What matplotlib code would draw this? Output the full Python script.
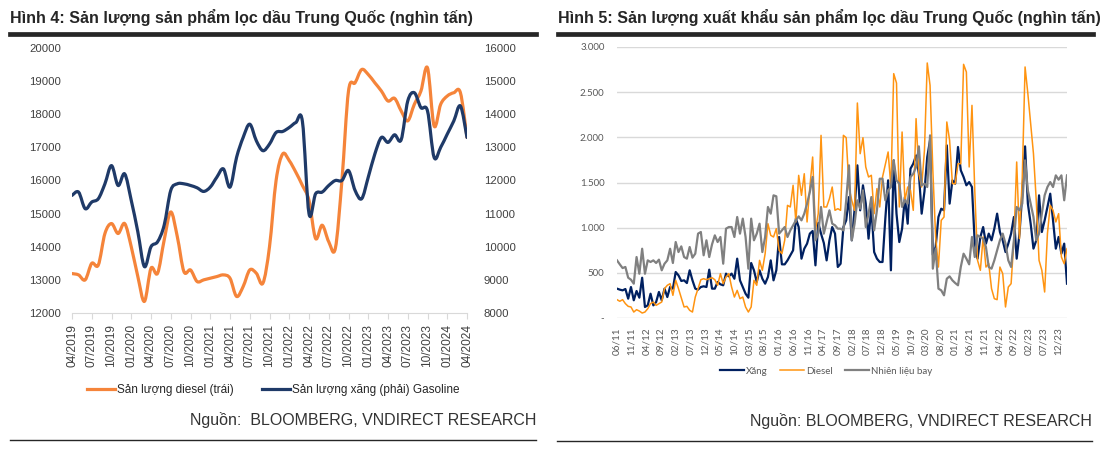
import numpy as np
import pandas as pd
import matplotlib
matplotlib.use("Agg")
import matplotlib.pyplot as plt
from matplotlib.path import Path
from matplotlib.patches import PathPatch
from matplotlib.lines import Line2D

# ---------------- Hình 4 data (nghìn tấn) ----------------
h4_months = pd.period_range("2019-04", "2024-04", freq="M")
h4_labels = [p.strftime("%m/%Y") for p in h4_months]
diesel_prod = [13190, 13150, 13000, 13500, 13450, 14400, 14700, 14400, 14700, 14000,
               13100, 12350, 13350, 13200, 14200, 15050, 14300, 13250, 13300, 12950,
               13000, 13050, 13100, 13150, 13050, 12500, 12800, 13300, 13200, 12900,
               14000, 16000, 16800, 16600, 16250, 15850, 15400, 14250, 14650, 14150,
               13950, 16000, 18700, 18950, 19350, 19200, 18950, 18700, 18400, 18480,
               18100, 17800, 18300, 18700, 19400, 17650, 18300, 18550, 18650, 18650,
               17300]
gasoline_prod = [11550, 11650, 11150, 11350, 11450, 11900, 12450, 11850, 12200, 11400,
                 10450, 9400, 10000, 10150, 10650, 11700, 11900, 11900, 11850, 11780,
                 11670, 11800, 12100, 12350, 11800, 12700, 13300, 13700, 13200, 12900,
                 13100, 13450, 13480, 13600, 13750, 13780, 11000, 11600, 11650, 11850,
                 12000, 12000, 12300, 11700, 11450, 12100, 12800, 13300, 13150, 13380,
                 13230, 14400, 14650, 14200, 14100, 12700, 13000, 13400, 13800, 14250,
                 13300]

# ---------------- Hình 5 data (nghìn tấn) ----------------
h5_months = pd.period_range("2011-06", "2024-03", freq="M")
h5_labels = [p.strftime("%m/%y") for p in h5_months]
export_gasoline = [
    325, 314, 306, 321, 214, 343, 196, 299, 225, 446, 122, 140, 269, 140, 177, 288, 196, 325, 232, 343,
    325, 509, 472, 410, 417, 387, 528, 417, 325, 314, 343, 351, 343, 535, 325, 325, 399, 373, 362, 491,
    461, 491, 435, 657, 417, 343, 269, 225, 609, 528, 399, 528, 435, 380, 454, 638, 417, 528, 897, 594,
    594, 638, 694, 749, 1100, 1007, 657, 767, 823, 934, 963, 583, 1052, 934, 830, 638, 860, 1007, 934, 565,
    601, 1007, 1081, 1339, 860, 1200, 1690, 1192, 1469, 1266, 878, 1229, 730, 657, 620, 620, 1100, 1524, 528, 1745,
    1155, 841, 989, 1339, 1044, 1653, 1708, 1800, 1597, 1155, 1400, 1782, 1967, 700, 786, 1118, 1210, 1192, 1911, 1266,
    1524, 1487, 1893, 1635, 1561, 1469, 1505, 1450, 823, 657, 897, 1007, 823, 934, 860, 989, 1155, 952, 860, 730,
    823, 934, 1118, 657, 934, 1376, 1900, 1266, 1044, 768, 860, 1358, 952, 1081, 1229, 1376, 1081, 768, 897, 712,
    823, 380]
export_diesel = [
    203, 185, 203, 159, 129, 122, 66, 92, 77, 55, 66, 103, 159, 177, 140, 159, 177, 325, 362, 380,
    251, 417, 325, 225, 122, 129, 85, 66, 232, 325, 424, 435, 424, 435, 446, 424, 362, 491, 380, 454,
    491, 343, 232, 306, 214, 232, 122, 66, 122, 417, 362, 638, 528, 712, 1044, 915, 897, 989, 749, 712,
    860, 1247, 1229, 1469, 1063, 1579, 1358, 1597, 1063, 1450, 1782, 970, 1155, 2022, 1229, 1229, 1321, 1450, 1192, 1210,
    1192, 2022, 1996, 1450, 1300, 1192, 2380, 1819, 1996, 1672, 1561, 1580, 1155, 1432, 1229, 1561, 1700, 1838, 1450, 2705,
    2601, 1229, 2059, 1303, 1450, 1413, 1192, 2207, 1597, 1450, 1856, 2823, 2576, 1635, 897, 564, 1081, 1118, 2170, 1967,
    1487, 1487, 1708, 1708, 2808, 2723, 1672, 2354, 1413, 638, 528, 897, 564, 601, 325, 214, 203, 564, 491, 122,
    343, 380, 860, 1727, 878, 1561, 2779, 2483, 2151, 1819, 1303, 638, 528, 288, 934, 1247, 1192, 1063, 1155, 675,
    601, 768]
export_jet = [
    638, 594, 553, 565, 446, 424, 380, 675, 490, 767, 490, 638, 620, 638, 609, 646, 528, 601, 638, 767,
    609, 841, 730, 793, 675, 657, 786, 668, 712, 934, 952, 694, 860, 675, 815, 915, 841, 897, 601, 989,
    1007, 1007, 897, 1118, 934, 1100, 897, 546, 1100, 860, 934, 1044, 730, 897, 1229, 1155, 1358, 1347, 934, 970,
    1007, 897, 970, 1026, 1081, 1125, 1081, 1155, 1266, 1395, 1561, 860, 934, 1229, 934, 1063, 1192, 1044, 1026, 989,
    989, 970, 1303, 1690, 860, 1044, 1303, 1210, 1413, 1007, 1155, 1339, 970, 1192, 1542, 1542, 1303, 1413, 1450, 1745,
    1524, 1487, 1229, 1303, 1266, 1561, 1597, 1672, 1900, 1469, 1487, 1450, 2022, 546, 768, 325, 306, 251, 435, 461,
    417, 387, 362, 565, 712, 657, 594, 897, 675, 915, 897, 878, 786, 565, 546, 638, 749, 860, 934, 823,
    638, 565, 860, 1229, 1192, 1266, 1745, 1413, 1266, 1118, 860, 934, 1155, 1358, 1450, 1505, 1450, 1579, 1531, 1579,
    1303, 1579]

W, H = 1107, 454
ARIAL = ["Liberation Sans", "DejaVu Sans"]
CALIBRI = ["Lato", "DejaVu Sans"]
plt.rcParams["font.family"] = ARIAL


def fx(px):
    return px / W


def fy(py):
    return 1 - py / H


def smooth_patch(x, y, color, lw):
    pts = np.column_stack([np.asarray(x, float), np.asarray(y, float)])
    n = len(pts)
    verts = [pts[0]]
    codes = [Path.MOVETO]
    t = 1 / 6
    for i in range(n - 1):
        p0 = pts[max(i - 1, 0)]
        p1 = pts[i]
        p2 = pts[i + 1]
        p3 = pts[min(i + 2, n - 1)]
        verts += [p1 + (p2 - p0) * t, p2 - (p3 - p1) * t, p2]
        codes += [Path.CURVE4] * 3
    return PathPatch(Path(verts, codes), fill=False, edgecolor=color, lw=lw,
                     capstyle="round", joinstyle="round")


fig = plt.figure(figsize=(W / 100, H / 100), dpi=100)

# ---------------- Left panel: Hình 4 ----------------
ORANGE4 = "#F5843A"
NAVY4 = "#1F3A68"
TXT = "#404040"

fig.text(fx(10), fy(17), "Hình 4: Sản lượng sản phẩm lọc dầu Trung Quốc (nghìn tấn)",
         fontsize=11.5, fontweight="bold", color="#262626", va="center", ha="left")
fig.add_artist(Line2D([fx(10), fx(536)], [fy(34), fy(34)], lw=3.4, color="#262626"))

ax1 = fig.add_axes([fx(72), fy(313), (467 - 72) / W, (313 - 48) / H])
ax2 = ax1.twinx()
x4 = np.arange(len(h4_months))
ax1.set_xlim(0, len(h4_months) - 1)
ax1.set_ylim(12000, 20000)
ax2.set_ylim(8000, 16000)
ax1.set_yticks(np.arange(12000, 20001, 1000))
ax2.set_yticks(np.arange(8000, 16001, 1000))
ax1.add_patch(smooth_patch(x4, diesel_prod, ORANGE4, 2.3))
ax2.add_patch(smooth_patch(x4, gasoline_prod, NAVY4, 2.3))
for a in (ax1, ax2):
    for s in a.spines.values():
        s.set_visible(False)
    a.patch.set_visible(False)
ax1.spines["bottom"].set_visible(True)
ax1.spines["bottom"].set_color("#d9d9d9")
ax1.set_xticks(x4[::3])
ax1.set_xticklabels(h4_labels[::3], rotation=90, fontsize=8.6, color=TXT)
ax1.tick_params(axis="x", length=4, color="#d9d9d9", pad=4)
ax1.tick_params(axis="y", length=0, pad=8, labelsize=8.2, labelcolor=TXT)
ax2.tick_params(axis="y", length=0, pad=12, labelsize=8.2, labelcolor=TXT)

h_d = Line2D([], [], color=ORANGE4, lw=2.3)
h_g = Line2D([], [], color=NAVY4, lw=2.3)
fig.legend([h_d, h_g], ["Sản lượng diesel (trái)", "Sản lượng xăng (phải) Gasoline"],
           loc="center", bbox_to_anchor=(fx(273), fy(390)), ncol=2, frameon=False,
           fontsize=8.5, handlelength=2.4, handletextpad=0.15, columnspacing=2.4,
           labelcolor="#262626")

fig.text(fx(536), fy(420), "Nguồn:  BLOOMBERG, VNDIRECT RESEARCH", fontsize=11.5,
         color="#333333", ha="right", va="center")
fig.add_artist(Line2D([fx(10), fx(536)], [fy(439.5), fy(439.5)], lw=1.0, color="#262626"))

# ---------------- Right panel: Hình 5 ----------------
NAVY5 = "#002060"
ORANGE5 = "#FF9411"
GRAY5 = "#808080"
GTXT = "#595959"

fig.text(fx(558), fy(17), "Hình 5: Sản lượng xuất khẩu sản phẩm lọc dầu Trung Quốc (nghìn tấn)",
         fontsize=11.5, fontweight="bold", color="#262626", va="center", ha="left")
fig.add_artist(Line2D([fx(558), fx(1093)], [fy(34), fy(34)], lw=3.4, color="#262626"))

ax3 = fig.add_axes([fx(617), fy(318), (1067 - 617) / W, (318 - 47) / H])
n5 = len(h5_months)
ax3.set_xlim(0, n5 - 1)
ax3.set_ylim(0, 3000)
ax3.set_yticks(np.arange(0, 3001, 500))
ax3.set_yticklabels(["-"] + [f"{v:,}".replace(",", ".") for v in range(500, 3001, 500)],
                    fontsize=7, color=GTXT, family=CALIBRI)
ax3.grid(axis="y", color="#d9d9d9", lw=1.0)
ax3.set_axisbelow(True)
for s in ax3.spines.values():
    s.set_visible(False)
ax3.tick_params(axis="y", length=0, pad=9)
ticks5 = np.arange(0, n5, 5)
ax3.set_xticks(ticks5)
ax3.set_xticklabels([h5_labels[i] for i in ticks5], rotation=90, fontsize=7.2,
                    color=GTXT, family=CALIBRI)
ax3.tick_params(axis="x", length=0, pad=7)

series5 = [(export_gasoline, NAVY5, 1.6, "Xăng"),
           (export_diesel, ORANGE5, 1.1, "Diesel"),
           (export_jet, GRAY5, 1.6, "Nhiên liệu bay")]
handles5 = []
for vals, col, lw, name in series5:
    xs = np.linspace(0, n5 - 1, len(vals))
    ln, = ax3.plot(xs, vals, color=col, lw=lw, label=name)
    handles5.append(ln)

fig.legend(handles5, [h.get_label() for h in handles5], loc="center",
           bbox_to_anchor=(fx(826), fy(371)), ncol=3, frameon=False,
           prop={"family": CALIBRI, "size": 7}, labelcolor=GTXT,
           handlelength=2.5, handletextpad=0.15, columnspacing=1.3)

fig.text(fx(1092), fy(421), "Nguồn: BLOOMBERG, VNDIRECT RESEARCH", fontsize=11.5,
         color="#333333", ha="right", va="center")
fig.add_artist(Line2D([fx(557), fx(1092)], [fy(440.5), fy(440.5)], lw=1.0, color="#262626"))

fig.savefig("out.png", dpi=100)
